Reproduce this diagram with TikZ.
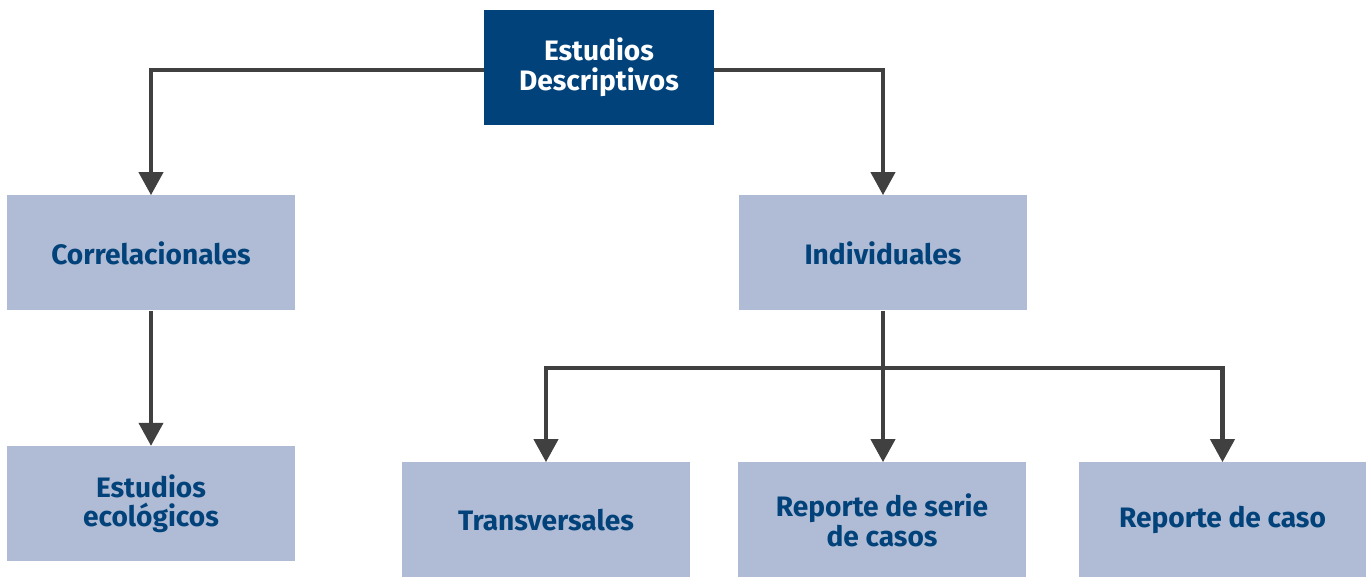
\documentclass[tikz,border=0pt]{standalone}
\usepackage{fontspec}
\setmainfont{Fira Sans}
\usepackage{tikz}
\usetikzlibrary{positioning, arrows.meta}
\definecolor{navy}{RGB}{2,66,122}
\definecolor{lightbox}{RGB}{176,188,213}
\definecolor{linegray}{RGB}{64,64,64}

\begin{document}
\begin{tikzpicture}[node distance=2.7cm and 1cm,
  every node/.style={align=center, rectangle, inner sep=2pt, font=\fontsize{16}{17}\selectfont\bfseries},
  topbox/.style={fill=navy, text=white, minimum width=4.6cm, minimum height=2.3cm},
  subbox/.style={fill=lightbox, text=navy, minimum width=5.76cm, minimum height=2.3cm},
  arr/.style={draw=linegray, line width=2.3pt, -{Triangle[width=0.48cm,length=0.46cm]}}]
 \useasboundingbox (0,0) rectangle (27.32,-11.56);
 \node[topbox] (desc) at (11.98,-1.35) {Estudios\\Descriptivos};
 \node[subbox] (corr) at (3.02,-5.06) {Correlacionales};
 \node[subbox] (indiv) at (17.66,-5.06) {Individuales};
 \node[subbox, below = of corr] (eco) {Estudios\\ecológicos};
 \node[subbox] (trans) at (10.92,-10.40) {Transversales};
 \node[subbox] (serie) at (17.64,-10.40) {Reporte de serie\\de casos};
 \node[subbox] (caso) at (24.45,-10.40) {Reporte de caso};
 \coordinate (split) at (17.66,-7.36);
 \draw[arr] ([yshift=-0.05cm]desc.west) -| (corr.north);
 \draw[arr] ([yshift=-0.05cm]desc.east) -| (indiv.north);
 \draw[arr] (corr.south) -- (eco.north);
 \draw[arr] (indiv.south) -- (indiv.south |- serie.north);
 \draw[arr] (split) -| (trans.north);
 \draw[arr] (split) -| (caso.north);
\end{tikzpicture}
\end{document}
